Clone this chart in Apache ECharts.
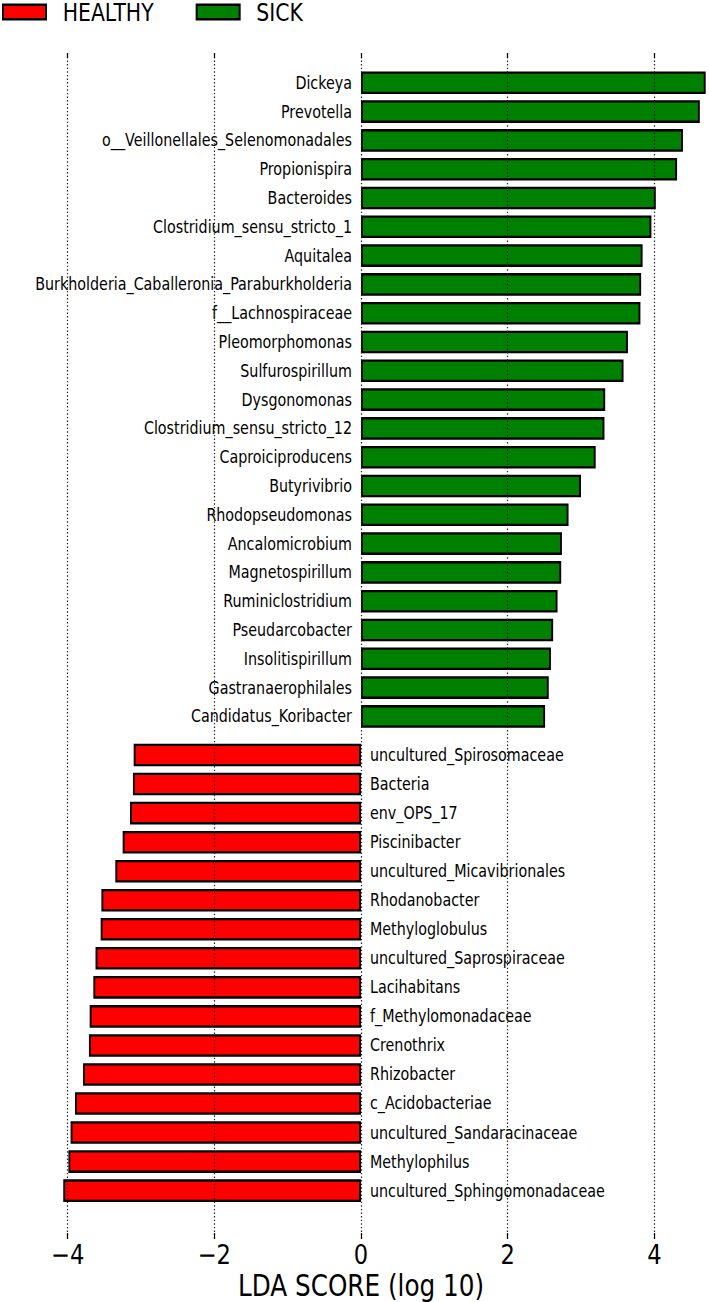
<!DOCTYPE html>
<html><head><meta charset="utf-8">
<script src="https://cdn.jsdelivr.net/npm/echarts@6/dist/echarts.min.js"></script>
<style>html,body{margin:0;padding:0;background:#fff;width:709px;height:1302px}
#c{width:709px;height:1085px;transform:scale(1,1.2);transform-origin:0 0}</style>
</head><body><div id="c"></div>
<script>
const sickNames = ['Dickeya','Prevotella','o__Veillonellales_Selenomonadales','Propionispira','Bacteroides',
  'Clostridium_sensu_stricto_1','Aquitalea','Burkholderia_Caballeronia_Paraburkholderia','f__Lachnospiraceae',
  'Pleomorphomonas','Sulfurospirillum','Dysgonomonas','Clostridium_sensu_stricto_12','Caproiciproducens',
  'Butyrivibrio','Rhodopseudomonas','Ancalomicrobium','Magnetospirillum','Ruminiclostridium','Pseudarcobacter',
  'Insolitispirillum','Gastranaerophilales','Candidatus_Koribacter'];
const sickScores = [4.70,4.62,4.39,4.31,4.02,3.96,3.84,3.82,3.81,3.64,3.58,3.33,3.32,3.20,3.00,2.83,2.74,2.73,2.68,2.62,2.59,2.56,2.51];
const healthyNames = ['uncultured_Spirosomaceae','Bacteria','env_OPS_17','Piscinibacter','uncultured_Micavibrionales',
  'Rhodanobacter','Methyloglobulus','uncultured_Saprospiraceae','Lacihabitans','f_Methylomonadaceae','Crenothrix',
  'Rhizobacter','c_Acidobacteriae','uncultured_Sandaracinaceae','Methylophilus','uncultured_Sphingomonadaceae'];
const healthyScores = [-3.10,-3.11,-3.15,-3.25,-3.35,-3.54,-3.55,-3.62,-3.65,-3.70,-3.71,-3.79,-3.90,-3.96,-3.99,-4.06];
const xTickLabels = [-4,-2,0,2,4];
const xLabel = 'LDA SCORE (log 10)';

const FONT = 'DejaVu Sans';
const X_MIN = -6, X_MAX = 6, X_INT = 2;
const GL = -79, GR = -92;
const ZERO_OFFSET = -440; // distance from grid edge (value ±6) to value 0
const chart = echarts.init(document.getElementById('c'), null, {renderer:'svg'});
const hiddenX = (gi) => ({type:'value', gridIndex:gi, min:X_MIN, max:X_MAX, interval:X_INT, show:false,
  axisLine:{show:false}, axisTick:{show:false}, axisLabel:{show:false}, splitLine:{show:false}});
const catY = (gi, names, pos) => ({type:'category', gridIndex:gi, data:names, inverse:true, position:pos,
  offset:ZERO_OFFSET,
  axisLine:{show:false, onZero:false}, axisTick:{show:false}, splitLine:{show:false},
  axisLabel:{interval:0, margin:9, color:'#000', fontFamily:FONT, fontSize:14.3}});
chart.setOption({
  animation:false,
  backgroundColor:'#fff',
  legend:{left:2, top:0, padding:0, icon:'rect', itemWidth:43, itemHeight:12.2, itemGap:42,
    data:['HEALTHY','SICK'],
    textStyle:{color:'#000', fontFamily:FONT, fontSize:20.4, padding:[0,0,0,11.7]}},
  grid:[
    {left:GL, right:GR, top:44.4, bottom:52.5, containLabel:false, outerBoundsMode:'none'},
    {left:GL, right:GR, top:57, height:552, containLabel:false, outerBoundsMode:'none'},
    {left:GL, right:GR, top:617.1, height:387.2, containLabel:false, outerBoundsMode:'none'}
  ],
  xAxis:[
    {type:'value', gridIndex:0, min:X_MIN, max:X_MAX, interval:X_INT, position:'bottom', z:10,
      axisLine:{show:false},
      axisTick:{show:true, inside:true, length:5, lineStyle:{color:'#000', width:1.2}},
      axisLabel:{show:true, margin:1.5, color:'#000', fontFamily:FONT, fontSize:22.6,
        formatter:(v)=> xTickLabels.indexOf(v) >= 0 ? (v<0 ? '\u2212'+Math.abs(v) : String(v)) : ''},
      splitLine:{show:true, lineStyle:{color:'#222', width:1.2, type:[1.2,1.8]}},
      name:xLabel, nameLocation:'middle', nameGap:26, nameMoveOverlap:false,
      nameTextStyle:{color:'#000', fontFamily:FONT, fontSize:24.7}},
    {type:'value', gridIndex:0, min:X_MIN, max:X_MAX, interval:X_INT, position:'top', z:10,
      axisLine:{show:false}, axisLabel:{show:false}, splitLine:{show:false},
      axisTick:{show:true, inside:true, length:4, lineStyle:{color:'#000', width:1.2}}},
    hiddenX(1), hiddenX(2)
  ],
  yAxis:[
    {type:'value', gridIndex:0, show:false, min:0, max:1, splitLine:{show:false}},
    catY(1, sickNames, 'left'),
    catY(2, healthyNames, 'right')
  ],
  series:[
    {type:'bar', name:'HEALTHY', xAxisIndex:3, yAxisIndex:2, data:healthyScores, barWidth:18.8,
      itemStyle:{color:'#FF0000', borderColor:'#000', borderWidth:1.9}},
    {type:'bar', name:'SICK', xAxisIndex:2, yAxisIndex:1, data:sickScores, barWidth:18.8,
      itemStyle:{color:'#008000', borderColor:'#000', borderWidth:1.9}}
  ]
});
</script></body></html>
